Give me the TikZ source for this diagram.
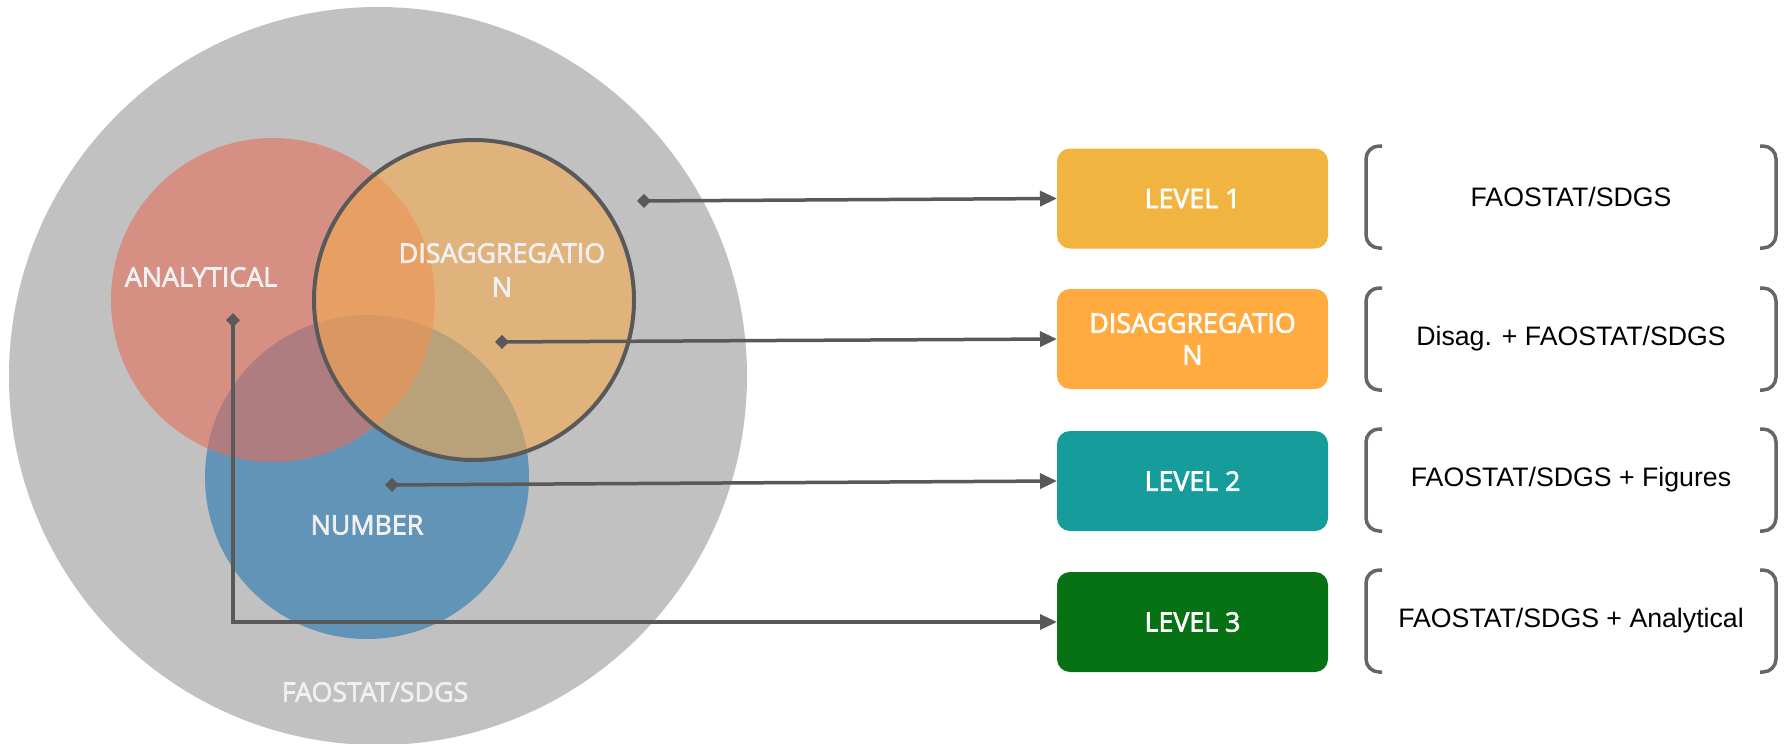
\documentclass[tikz,border=0pt]{standalone}
\usepackage{fontspec}
\setmainfont{Liberation Sans}
\newfontfamily\vennfont[FakeBold=2.5]{Open Sans}
\usetikzlibrary{arrows.meta}

\definecolor{bgcircle}{HTML}{C1C1C1}
\definecolor{redset}{RGB}{228,110,91}
\definecolor{blueset}{RGB}{57,130,179}
\definecolor{orangeset}{RGB}{245,171,80}
\definecolor{linkgray}{HTML}{595959}
\definecolor{bracegray}{HTML}{666666}
\definecolor{setlabel}{HTML}{F0F0F0}
\definecolor{lvlone}{HTML}{F2B441}
\definecolor{lvldis}{HTML}{FFAB40}
\definecolor{lvltwo}{HTML}{169C9B}
\definecolor{lvlthree}{HTML}{077213}

\begin{document}
\begin{tikzpicture}[x=0.5pt,y=-0.5pt,
  set/.style={circle,minimum size=162pt,inner sep=0pt},
  setname/.style={text=setlabel,font=\vennfont\fontsize{13.4}{17}\selectfont,align=center},
  level/.style={rounded corners=6.5pt,minimum width=135.5pt,minimum height=50pt,outer sep=0pt,
    text=white,font=\vennfont\fontsize{13.4}{16}\selectfont,align=center},
  source/.style={minimum width=205pt,minimum height=51pt,outer sep=0pt,font=\fontsize{13.35}{16}\selectfont},
  link/.style={linkgray,line width=1.75pt,{Diamond[length=7pt,width=7pt]}-{Triangle[length=8.5pt,width=7.5pt]}},
  brace/.style={bracegray,line width=1.75pt,rounded corners=6.5pt}]
\useasboundingbox (0,0) rectangle (1789,744);

% the sets
\node[set,fill=bgcircle,minimum size=369pt] (all) at (378,376) {};
\node[set,fill=blueset,fill opacity=0.7] (number) at (367,477) {};
\node[set,fill=redset,fill opacity=0.6] (analytical) at (273,300) {};
\node[set,fill=orangeset,fill opacity=0.6,draw=linkgray,line width=2pt,minimum size=160pt] (disagg) at (474,300) {};

\node[setname] (analyticallabel) at (201,277) {ANALYTICAL};
\node[setname] (disagglabel) at (502,270) {DISAGGREGATIO\\N};
\node[setname] (numberlabel) at (367,525) {NUMBER};
\node[setname] (alllabel) at (375,692) {FAOSTAT/SDGS};

% the levels
\node[level,fill=lvlone] (lvl1) at (1192.5,198.5) {LEVEL 1};
\node[level,fill=lvldis] (lvldis) at (1192.5,339) {DISAGGREGATIO\\N};
\node[level,fill=lvltwo] (lvl2) at (1192.5,481) {LEVEL 2};
\node[level,fill=lvlthree] (lvl3) at (1192.5,622) {LEVEL 3};

\node[source] (src1) at (1571,197) {FAOSTAT/SDGS};
\node[source] (src2) at (1571,339) {Disag. + FAOSTAT/SDGS};
\node[source] (src3) at (1571,480) {FAOSTAT/SDGS + Figures};
\node[source] (src4) at (1571,621) {FAOSTAT/SDGS + Analytical};

\draw[brace] ([xshift=8pt]src1.north west) -| (src1.south west) -- ([xshift=8pt]src1.south west);
\draw[brace] ([xshift=-8pt]src1.north east) -| (src1.south east) -- ([xshift=-8pt]src1.south east);
\draw[brace] ([xshift=8pt]src2.north west) -| (src2.south west) -- ([xshift=8pt]src2.south west);
\draw[brace] ([xshift=-8pt]src2.north east) -| (src2.south east) -- ([xshift=-8pt]src2.south east);
\draw[brace] ([xshift=8pt]src3.north west) -| (src3.south west) -- ([xshift=8pt]src3.south west);
\draw[brace] ([xshift=-8pt]src3.north east) -| (src3.south east) -- ([xshift=-8pt]src3.south east);
\draw[brace] ([xshift=8pt]src4.north west) -| (src4.south west) -- ([xshift=8pt]src4.south west);
\draw[brace] ([xshift=-8pt]src4.north east) -| (src4.south east) -- ([xshift=-8pt]src4.south east);

% connectors
\coordinate (c1) at (637,201);
\coordinate (c2) at (495,342);
\coordinate (c3) at (385,485);
\coordinate (c4) at (233,313);
\draw[link] (c1) -- (lvl1.west);
\draw[link] (c2) -- (lvldis.west);
\draw[link] (c3) -- (lvl2.west);
\draw[link] (c4) |- (lvl3.west);
\end{tikzpicture}
\end{document}
